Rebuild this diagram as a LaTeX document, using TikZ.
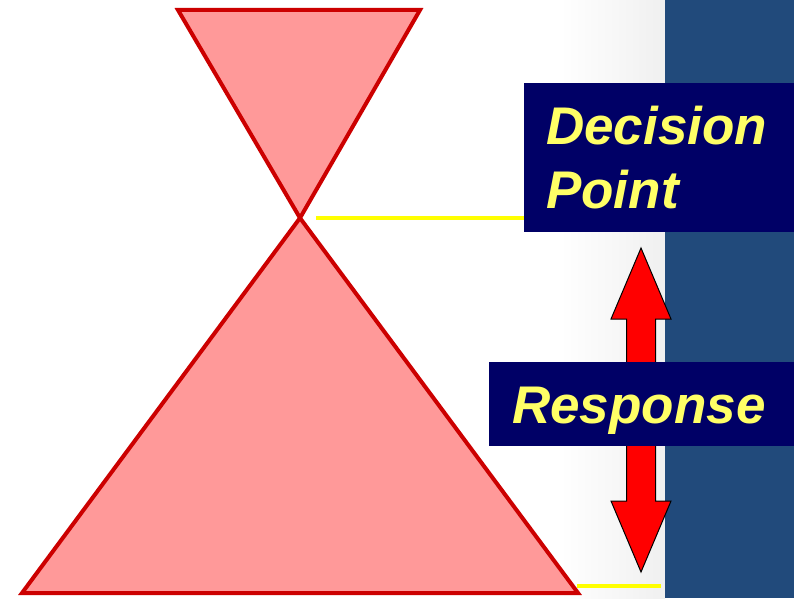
\documentclass[tikz,border=0pt]{standalone}
\usepackage{fontspec}
\setmainfont{Liberation Sans}
\begin{document}
\begin{tikzpicture}[x=1pt,y=1pt,
  tri/.style={draw=tri-line,fill=tri-fill,line width=4pt,line join=miter},
  navybox/.style={fill=navy,inner sep=0pt,draw=none},
  lbl/.style={text=lbl-yellow,font=\fontsize{53}{63}\selectfont\bfseries\itshape,inner sep=0pt},
  yline/.style={draw=yel,line width=4pt},
  arrowshape/.style={draw=black,fill=red,line width=1pt,line join=miter}]
\definecolor{tri-line}{RGB}{204,0,0}
\definecolor{tri-fill}{RGB}{255,153,153}
\definecolor{navy}{RGB}{0,0,102}
\definecolor{lbl-yellow}{RGB}{255,255,102}
\definecolor{yel}{RGB}{255,255,0}
\definecolor{band}{RGB}{33,74,123}
\useasboundingbox (0,0) rectangle (794,598);
\fill[white] (0,0) rectangle (794,598);
% light gradient near the band
\shade[left color=white,right color=black!6] (560,0) rectangle (665,598);
% dark blue band
\fill[band] (665,0) rectangle (794,598);
% triangles
\coordinate (apex) at (300,380);
\path[tri] (178,588) -- (420,588) -- (apex) -- cycle;
\path[tri] (22,5) -- (578,5) -- (apex) -- cycle;
% double arrow
\path[arrowshape] (641,350) -- (671,279) -- (655.5,279) -- (655.5,97) -- (671,97)
  -- (641,26) -- (611,97) -- (626.5,97) -- (626.5,279) -- (611,279) -- cycle;
% boxes
\node[navybox,anchor=north west,minimum width=270pt,minimum height=149pt] (dp) at (524,515) {};
\node[navybox,anchor=north west,minimum width=305pt,minimum height=84pt] (resp) at (489,236) {};
\node[lbl,anchor=base west] (dec) at (546,453) {Decision};
\node[lbl,anchor=base west] (pt) at (546,390) {Point};
\node[lbl,anchor=base west] (rs) at (512,175) {Response};
% yellow lines
\coordinate (ytop) at (316,380);
\coordinate (ybot1) at (577,12);
\coordinate (ybot2) at (661,12);
\draw[yline] (ytop) -- (ytop -| dp.west);
\draw[yline] (ybot1) -- (ybot2);
\end{tikzpicture}
\end{document}
